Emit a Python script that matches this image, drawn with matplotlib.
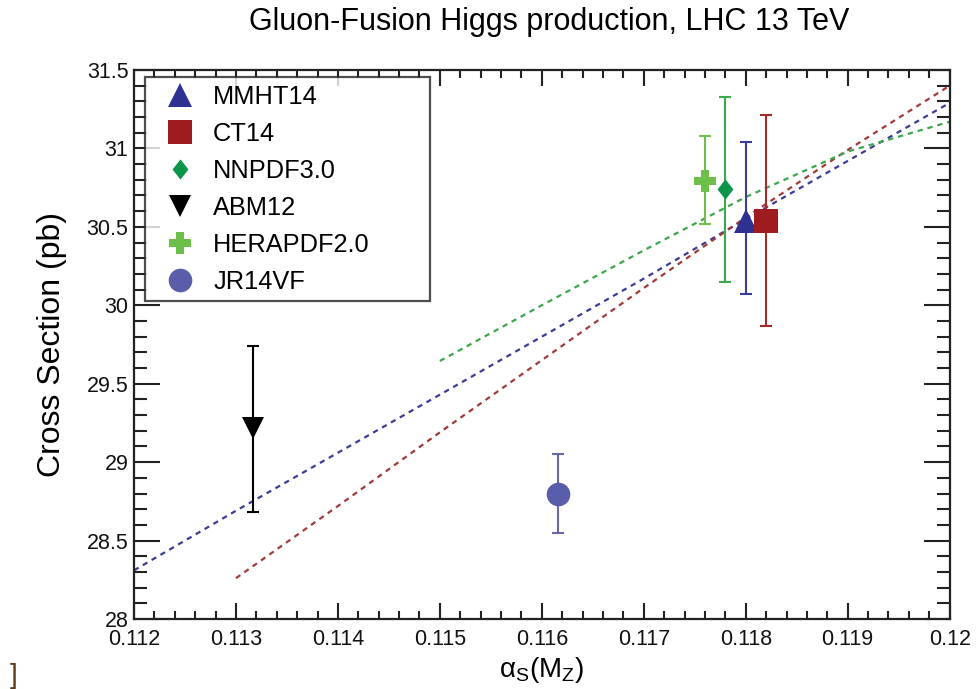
import numpy as np
import matplotlib
matplotlib.use("Agg")
import matplotlib.pyplot as plt
from matplotlib.ticker import MultipleLocator, FixedFormatter, FixedLocator

plt.rcParams['font.family'] = ['Liberation Sans', 'DejaVu Sans']
plt.rcParams['mathtext.fontset'] = 'custom'
plt.rcParams['mathtext.rm'] = 'Liberation Sans'
plt.rcParams['mathtext.it'] = 'Liberation Sans'
plt.rcParams['mathtext.default'] = 'regular'

# PDF sets: alpha_s value, cross section, error
pdf_names = ['MMHT14', 'CT14', 'NNPDF3.0', 'ABM12', 'HERAPDF2.0', 'JR14VF']
pdf_alphas = [0.1180, 0.1182, 0.1178, 0.11317, 0.1176, 0.11616]
pdf_xsec = [30.54, 30.54, 30.74, 29.22, 30.79, 28.80]
pdf_err_up = [0.50, 0.67, 0.59, 0.52, 0.29, 0.25]
pdf_err_down = [0.47, 0.67, 0.59, 0.54, 0.27, 0.25]

# alpha_s dependence curves
mmht_as = [0.112, 0.113, 0.114, 0.115, 0.116, 0.117, 0.118, 0.119, 0.120]
mmht_xs = [28.31, 28.69, 29.06, 29.43, 29.80, 30.17, 30.55, 30.92, 31.29]
ct14_as = [0.113, 0.114, 0.115, 0.116, 0.117, 0.118, 0.119, 0.120]
ct14_xs = [28.26, 28.72, 29.19, 29.65, 30.11, 30.56, 30.99, 31.40]
nnpdf_as = [0.115, 0.116, 0.117, 0.118, 0.119, 0.120]
nnpdf_xs = [29.645, 30.00, 30.35, 30.69, 30.98, 31.17]

# styles
marker_col = ['#2e3192', '#9e1b20', '#0a9548', '#000000', '#6cc04a', '#5a5daa']
err_col = ['#3a3d99', '#a52a2a', '#3aaa4a', '#000000', '#6cc04a', '#6668b0']
tri_diamond = [(0, 1), (0.79, 0), (0, -1), (-0.79, 0), (0, 1)]
markers = ['^', 's', tri_diamond, 'v', 'P', 'o']
msizes = [17, 17.5, 14.5, 16, 16.5, 17]

fig = plt.figure(figsize=(9.78, 6.89), dpi=100)
ax = fig.add_axes([0.137, 0.1016, 0.834, 0.7968])

ax.plot(mmht_as, mmht_xs, color='#3b3c98', lw=1.6, dashes=(2.4, 2.2))
ax.plot(ct14_as, ct14_xs, color='#a33a3a', lw=1.6, dashes=(2.4, 2.2))
ax.plot(nnpdf_as, nnpdf_xs, color='#3aa84a', lw=1.6, dashes=(2.4, 2.2))

for i in range(len(pdf_names)):
    ax.errorbar(pdf_alphas[i], pdf_xsec[i],
                yerr=[[pdf_err_down[i]], [pdf_err_up[i]]],
                fmt='none', ecolor=err_col[i], elinewidth=1.5,
                capsize=4, capthick=1.5, zorder=3)
    ax.plot(pdf_alphas[i], pdf_xsec[i], linestyle='none',
            marker=markers[i], markersize=msizes[i],
            color=marker_col[i], markeredgewidth=0, label=pdf_names[i], zorder=4)

ax.set_xlim(0.112, 0.12)
ax.set_ylim(28, 31.5)
xt = [0.112, 0.113, 0.114, 0.115, 0.116, 0.117, 0.118, 0.119, 0.12]
xtl = ['0.112', '0.113', '0.114', '0.115', '0.116', '0.117', '0.118', '0.119', '0.12']
ax.xaxis.set_major_locator(FixedLocator(xt))
ax.xaxis.set_major_formatter(FixedFormatter(xtl))
ax.xaxis.set_minor_locator(MultipleLocator(0.0002))
yt = [28, 28.5, 29, 29.5, 30, 30.5, 31, 31.5]
ytl = ['28', '28.5', '29', '29.5', '30', '30.5', '31', '31.5']
ax.yaxis.set_major_locator(FixedLocator(yt))
ax.yaxis.set_major_formatter(FixedFormatter(ytl))
ax.yaxis.set_minor_locator(MultipleLocator(0.1))

ax.tick_params(axis='both', which='both', direction='in', top=True, right=True,
               width=1.5, colors='#222222', labelcolor='#111111', labelsize=15.5)
ax.tick_params(axis='y', which='major', length=18.5, pad=4)
ax.tick_params(axis='y', which='minor', length=9.5)
ax.tick_params(axis='x', which='major', length=11.5, pad=7)
ax.tick_params(axis='x', which='minor', length=6)
for s in ax.spines.values():
    s.set_linewidth(1.6)
    s.set_color('#222222')

ax.set_ylabel('Cross Section (pb)', fontsize=23, labelpad=14)
ax.set_xlabel(r'$\alpha_S(M_Z)$', fontsize=20, labelpad=4)
fig.text(0.562, 0.9565, 'Gluon-Fusion Higgs production, LHC 13 TeV',
         ha='center', va='baseline', fontsize=22)

leg = ax.legend(loc='upper left', bbox_to_anchor=(0.0135, 0.5756, 0.3495, 0.4114),
                mode='expand', frameon=True, fancybox=False, fontsize=18.3,
                borderaxespad=0, labelspacing=0.51, handletextpad=0.22,
                handlelength=2.16, borderpad=0.3)
leg.get_frame().set_edgecolor('#222222')
leg.get_frame().set_linewidth(1.6)

fig.text(0.010, 0.0, ']', fontsize=20, color='#5a3a20', va='bottom')

fig.savefig('out.png', dpi=100)
